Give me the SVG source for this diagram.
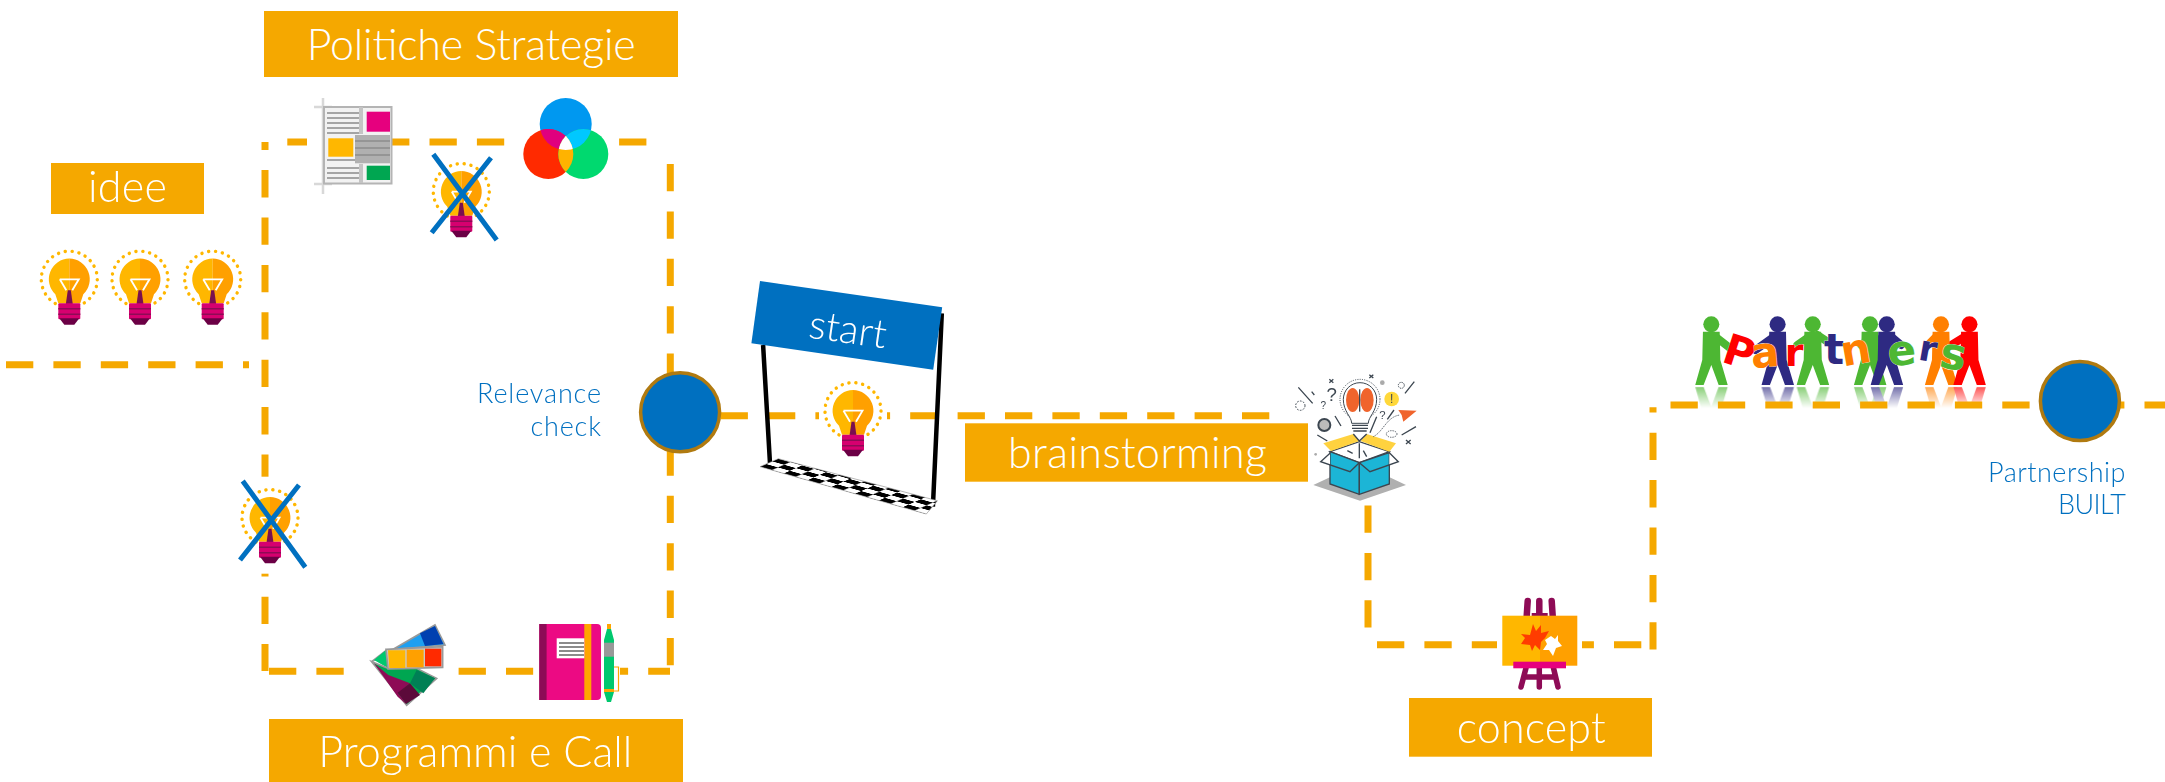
<svg xmlns="http://www.w3.org/2000/svg" width="2165" height="782" viewBox="0 0 2165 782">
<style>
.dash{fill:none;stroke:#F5A800;stroke-width:7;stroke-dasharray:27.3 20.1}
.lab{fill:#F5A800}
.t{font-family:"Lato","Open Sans","Liberation Sans",sans-serif;font-weight:300;fill:#fff;font-size:43px}
.b{font-family:"Lato","Open Sans","Liberation Sans",sans-serif;font-weight:300;fill:#0070C0;font-size:27px;text-anchor:end}
.chk{fill:#0070C0;stroke:#B07A10;stroke-width:3.5}
.x{stroke:#0070C0;stroke-width:5;fill:none}
.post{stroke:#000;stroke-width:4.5;fill:none}
.ln{stroke:#3C4650;stroke-width:4;fill:none}
.ltr{font-family:"DejaVu Sans",sans-serif;font-weight:700;text-anchor:middle;stroke:#fff;stroke-width:.6;paint-order:stroke}
.q{font-family:"Liberation Sans",sans-serif;fill:#3C4650;text-anchor:middle}
</style>
<defs>
<g id="bulb">
<rect x="-34" y="-41" width="68" height="97" fill="#fff"/>
<path d="M-14 24.200A28 28 0 1 1 14 24.200" fill="none" stroke="#FFB700" stroke-width="3.400" stroke-linecap="round" stroke-dasharray=".1 6.800"/>
<path d="M0-20.700A20.700 20.700 0 0 0-14 15L-11 24H0Z" fill="#FFB700"/>
<path d="M0-20.700A20.700 20.700 0 0 1 14 15L11 24H0Z" fill="#FFA000"/>
<path d="M-9.500 0H9.500L3 11M-9.500 0L-3 11" fill="none" stroke="#fff" stroke-width="1.800"/>
<path d="M-1.500 11H1.500L3.500 25H-3.500Z" fill="#7A0F4F"/>
<rect x="-11" y="24" width="22" height="16" rx="1" fill="#D6006F"/>
<path d="M-11 29.500H11M-11 35H11" stroke="#8E0B56" stroke-width="1.500"/>
<path d="M-10 39H10L5 45.500H-5Z" fill="#6B0045"/>
</g>
<g id="person">
<circle cx="0" cy="73" r="24"/>
<path d="M-25 95H25L27 180L49 255H22L0 195L-23 255H-48L-27 180Z"/>
</g>
<pattern id="chk" patternUnits="userSpaceOnUse" width="2" height="2" patternTransform="matrix(11.88 3.38 6.1 -2.67 760 466.7)">
<rect width="2" height="2" fill="#fff"/>
<rect width="1" height="1" fill="#000"/>
<rect x="1" y="1" width="1" height="1" fill="#000"/>
</pattern>
<clipPath id="cb"><circle cx="565.700" cy="124" r="26"/></clipPath>
<clipPath id="cg"><circle cx="583.300" cy="154" r="25"/></clipPath>
<linearGradient id="fade" gradientUnits="userSpaceOnUse" x1="0" y1="258" x2="0" y2="325">
<stop offset="0" stop-color="#fff" stop-opacity=".7"/><stop offset="1" stop-color="#fff" stop-opacity="0"/>
</linearGradient>
<mask id="mf" maskUnits="userSpaceOnUse" x="0" y="258" width="1200" height="70"><rect x="0" y="258" width="1200" height="70" fill="url(#fade)"/></mask>
</defs>

<g id="partners">
<g transform="translate(1640 300) scale(.3348 .3333)">
<g mask="url(#mf)">
<g transform="translate(0 516) scale(1 -1)">
<use href="#person" x="213" fill="#4DB733"/><use href="#person" x="411" fill="#2E2A82"/><use href="#person" x="516" fill="#4DB733"/><use href="#person" x="687" fill="#4DB733"/><use href="#person" x="737" fill="#2E2A82"/><use href="#person" x="899" fill="#FF7F00"/><use href="#person" x="984" fill="#F00"/>
</g>
</g>
<g stroke-width="24" fill="none" stroke-linecap="round">
<path d="M225 110L270 145" stroke="#4DB733"/><path d="M400 110L345 150" stroke="#2E2A82"/><path d="M505 110L470 135M530 105L555 122" stroke="#4DB733"/><path d="M700 110L660 135" stroke="#4DB733"/><path d="M725 110L700 140M750 110L780 135" stroke="#2E2A82"/><path d="M885 110L860 135" stroke="#FF7F00"/><path d="M970 110L930 135" stroke="#F00"/>
</g>
<use href="#person" x="213" fill="#4DB733"/><use href="#person" x="411" fill="#2E2A82"/><use href="#person" x="516" fill="#4DB733"/><use href="#person" x="687" fill="#4DB733"/><use href="#person" x="737" fill="#2E2A82"/><use href="#person" x="899" fill="#FF7F00"/><use href="#person" x="984" fill="#F00"/>
</g>
<text class="ltr" font-size="42" fill="#F00" transform="translate(1735 366) rotate(18)">P</text>
<text class="ltr" font-size="42" fill="#FF7F00" transform="translate(1766 367) rotate(-5)">a</text>
<text class="ltr" font-size="38" fill="#F00" transform="translate(1794 366)">r</text>
<text class="ltr" font-size="42" fill="#2E2A82" transform="translate(1834 364)">t</text>
<text class="ltr" font-size="42" fill="#FF7F00" transform="translate(1858 364) rotate(-10)">n</text>
<text class="ltr" font-size="42" fill="#4DB733" transform="translate(1903 365) rotate(-5)">e</text>
<text class="ltr" font-size="36" fill="#2E2A82" transform="translate(1926 361) rotate(10)">r</text>
<text class="ltr" font-size="44" fill="#4DB733" transform="translate(1951 369) rotate(10)">s</text>
</g>

<g id="connectors">
<path class="dash" d="M6 364.700H249"/>
<path class="dash" style="stroke-dashoffset:19.300" d="M265 142V671"/>
<path class="dash" d="M287.300 142H647"/>
<path class="dash" d="M670.300 164V671"/>
<path class="dash" d="M269 671.300H670"/>
<path class="dash" d="M673.200 415.700H1270"/>
<path class="dash" d="M1368 505.500V645"/>
<path class="dash" d="M1377 644.700H1641.500"/>
<path class="dash" style="stroke-dashoffset:22" d="M1653 407.300V649.500"/>
<path class="dash" d="M1670.500 405H2165"/>
</g>

<g id="idee">
<rect class="lab" x="51" y="163" width="153" height="51"/>
<text class="t" x="88" y="202.300" textLength="79" lengthAdjust="spacing">idee</text>
</g>
<g id="idee-bulbs">
<use href="#bulb" x="69.300" y="279.300"/><use href="#bulb" x="140" y="279.300"/><use href="#bulb" x="212.700" y="279.300"/>
</g>
<g id="politiche">
<rect class="lab" x="264" y="11" width="414" height="66"/>
<text class="t" x="306.700" y="60" textLength="329" lengthAdjust="spacing">Politiche Strategie</text>
</g>
<g id="doc">
<rect x="307" y="100" width="85" height="90" fill="#fff"/>
<path d="M323 98V194M314 107H332M314 184H332" stroke="#D8D8D8" stroke-width="2.500" fill="none"/>
<rect x="324" y="107" width="67.500" height="76.500" fill="#F2F2F2" stroke="#B4B4B4" stroke-width="2"/>
<path d="M327 113H362M327 118H362M327 123H362M327 128H362M327 133H362M327 160H362M327 168H362M327 173H362M327 178H362" stroke="#8C8C8C" stroke-width="1.500"/>
<rect x="355" y="135" width="35" height="28.300" fill="#B0B0B0"/>
<path d="M355 141H390M355 148H390M355 155H390" stroke="#8C8C8C" stroke-width="1.500"/>
<path d="M361 107V134M361 164V183" stroke="#C4C4C4" stroke-width="4"/>
<rect x="366.700" y="111.700" width="23.300" height="20" fill="#E6007E"/>
<rect x="328.300" y="138.300" width="25" height="18.400" fill="#FFB700"/>
<rect x="366.700" y="165.700" width="23.300" height="14.300" fill="#00A651"/>
</g>
<g id="colors">
<rect x="505" y="96" width="114" height="86" fill="#fff"/>
<circle cx="565.700" cy="124" r="26" fill="#0098F0"/>
<circle cx="548.300" cy="154" r="25" fill="#FF2A00"/>
<circle cx="583.300" cy="154" r="25" fill="#00D96F"/>
<g clip-path="url(#cb)"><circle cx="548.300" cy="154" r="25" fill="#E0007E"/><circle cx="583.300" cy="154" r="25" fill="#00C8FF"/></g>
<g clip-path="url(#cg)"><circle cx="548.300" cy="154" r="25" fill="#FFB300"/><g clip-path="url(#cb)"><circle cx="548.300" cy="154" r="25" fill="#fff"/></g></g>
</g>
<g id="bulb-x1">
<use href="#bulb" x="461.300" y="191.700"/>
<path class="x" d="M433.300 154.300L496.700 240M491 157.700L431.700 232.700"/>
</g>
<g id="bulb-x2">
<use href="#bulb" x="270" y="517.700"/>
<path class="x" d="M242.700 481L305.300 567.300M299 485L240 560"/>
</g>
<g id="palette" transform="translate(250 600) scale(.3333)">
<rect x="285" y="50" width="335" height="290" fill="#fff"/>
<path d="M365 185L555 75L585 135L410 150Z" fill="#1E9FF0" stroke="#999" stroke-width="5"/>
<path d="M510 100L555 78L580 132L525 138Z" fill="#0040B0"/>
<path d="M372 180L408 150L460 145L410 150L415 205Z" fill="#00C86E"/>
<path d="M365 185L470 316L560 235L500 205L415 205Z" fill="#00A651" stroke="#999" stroke-width="5"/>
<path d="M372 190L415 225L480 250L445 280L468 312L443 290Z" fill="#8E0B56"/>
<path d="M443 278L480 250L510 285L468 312Z" fill="#5C0A3A"/>
<path d="M500 210L555 235L520 280L480 250Z" fill="#008055"/>
<path d="M408 148L578 140L578 202L414 207Z" fill="#C8C8C8" stroke="#999" stroke-width="5"/>
<path d="M414 151H466V204H418Z" fill="#FFB700"/><path d="M470 149H521V202H470Z" fill="#FFA000"/><path d="M525 146H574V199H525Z" fill="#FF2A00"/>
</g>
<g id="notebook">
<rect x="533.500" y="620" width="86.500" height="85" fill="#fff"/>
<path d="M539.300 624H597a4 4 0 0 1 4 4V696a4 4 0 0 1-4 4H539.300Z" fill="#EC0A83"/>
<rect x="539.300" y="624" width="7.300" height="76" fill="#8E0B56"/>
<rect x="584.300" y="624" width="7" height="76" fill="#FFA500"/>
<rect x="556.700" y="638.300" width="27.600" height="20" fill="#fff"/>
<path d="M559 643H584M559 647H584M559 651H584M559 655H584" stroke="#666" stroke-width="1.500"/>
<path d="M607 624H611V629L614 640V692L611 702H607L604 692V640L607 629Z" fill="#00C86E"/>
<rect x="607" y="624" width="4" height="5" fill="#FFA500"/>
<rect x="604" y="642.700" width="10" height="14" fill="#999"/>
<rect x="604" y="689" width="10" height="3" fill="#FFA500"/>
<path d="M614 667H618.500V691H614" fill="none" stroke="#FFA500" stroke-width="1.200"/>
</g>
<g id="programmi">
<rect class="lab" x="269" y="719" width="414" height="63"/>
<text class="t" x="318.300" y="766.700" textLength="314" lengthAdjust="spacing">Programmi e Call</text>
</g>
<g id="relevance">
<circle class="chk" cx="680.100" cy="412.300" r="39.500"/>
<text class="b" x="601" y="403.300" textLength="124" lengthAdjust="spacing">Relevance</text>
<text class="b" x="601" y="435.700" textLength="70.600" lengthAdjust="spacing">check</text>
</g>
<g id="start">
<path class="post" d="M763.100 345L770 463.300M941.800 313.300L932.900 506.700"/>
<polygon points="760,466.700 778.300,458.700 937.400,500.700 926.300,514" fill="url(#chk)" stroke="#888" stroke-width=".6"/>
<polygon points="760,281 942.200,307.300 933.200,369.700 751.400,343.300" fill="#0070C0"/>
<text class="t" text-anchor="middle" style="font-size:40px" transform="translate(846 343) rotate(8.200)">start</text>
<use href="#bulb" x="853" y="410.700"/>
</g>
<g id="brainstorming">
<rect class="lab" x="965" y="423.300" width="343" height="58.400"/>
<text class="t" x="1008" y="467.700" textLength="259" lengthAdjust="spacing">brainstorming</text>
</g>
<g id="box" transform="translate(1270 360) scale(.3333)">
<path d="M130 375L270 310L408 375L270 422Z" fill="#B0B0B0"/>
<path d="M180 275L268 245L358 275L268 308Z" fill="#fff" stroke="#3C4650" stroke-width="4"/>
<path d="M180 275L268 308V403L180 372Z" fill="#1CB5D6" stroke="#3C4650" stroke-width="4"/>
<path d="M268 308L358 278V372L268 403Z" fill="#1CB5D6" stroke="#3C4650" stroke-width="4"/>
<path d="M160 250L250 222L268 243L183 273Z" fill="#FFD23F"/>
<path d="M272 243L290 222L378 250L358 275Z" fill="#FFD23F"/>
<path d="M180 280L152 305L180 315Z" fill="#fff"/>
<path d="M358 278L385 305L358 315Z" fill="#fff"/>
<path d="M180 280L152 305L240 335L268 308L300 335L385 305L358 278" class="ln"/>
<path d="M268 250V295M232 272L248 280M280 272L290 290M250 222L268 243L290 222" class="ln"/>
<circle cx="270" cy="118" r="60" fill="none" stroke="#3C4650" stroke-width="3" stroke-dasharray="3 4"/>
<path d="M245 190C245 170 220 155 220 118A50 50 0 0 1 320 118C320 155 295 170 295 190Z" fill="#fff" stroke="#3C4650" stroke-width="3"/>
<path d="M246 196H294M246 205H294M250 213H290" class="ln"/>
<ellipse cx="248" cy="120" rx="20" ry="36" fill="#F0642C"/>
<ellipse cx="291" cy="120" rx="20" ry="36" fill="#F0642C"/>
<path d="M269 88V155" class="ln"/>
<circle cx="365" cy="117" r="22" fill="#FFD83A"/>
<text class="q" x="365" y="130" font-size="36">!</text>
<path d="M385 150L440 152L400 185L395 165Z" fill="#F0642C"/>
<circle cx="163" cy="195" r="18" fill="#BBB" stroke="#3C4650" stroke-width="6"/>
<circle cx="91" cy="137" r="14" fill="none" stroke="#3C4650" stroke-width="3" stroke-dasharray="5 4"/>
<circle cx="394" cy="76" r="9" fill="none" stroke="#3C4650" stroke-width="3" stroke-dasharray="4 3"/>
<path d="M85 82L128 130M125 95L133 105M195 168L213 198M142 225L172 243M433 65L405 100M438 200L395 225M320 170L300 218M372 150L352 178M178 58L190 68M190 58L178 68M298 44L310 54M310 44L298 54M408 240L422 252M422 240L408 252" class="ln"/>
<circle cx="337" cy="68" r="7" fill="#AAA"/><circle cx="137" cy="283" r="4" fill="#AAA"/>
<ellipse cx="365" cy="222" rx="16" ry="10" fill="none" stroke="#3C4650" stroke-width="2.500" stroke-dasharray="4 3"/>
<path d="M310 230C340 215 350 170 390 165" fill="none" stroke="#3C4650" stroke-width="2.500" stroke-dasharray="4 3"/>
<text class="q" x="185" y="122" font-size="56">?</text>
<text class="q" x="160" y="146" font-size="30">?</text>
<text class="q" x="337" y="178" font-size="34">?</text>
</g>
<g id="easel">
<rect x="1497" y="598" width="85" height="92" fill="#fff"/>
<path d="M1527.700 601L1526.700 616M1539.300 601V616M1551.700 601L1552.700 616" stroke="#8E0B56" stroke-width="6.500" stroke-linecap="round"/>
<rect x="1531.700" y="613" width="16" height="5" fill="#8E0B56"/>
<rect x="1502.300" y="615.700" width="37.700" height="50" fill="#FFB700"/>
<rect x="1540" y="615.700" width="37.300" height="50" fill="#FFA000"/>
<path d="M1526 668L1521 687M1539.300 668V687M1553.500 668L1558 687M1524 677H1555" stroke="#8E0B56" stroke-width="5.500" fill="none" stroke-linecap="round"/>
<rect x="1513.300" y="661.700" width="52.700" height="6.600" fill="#E6007E"/>
<path d="M1533 624L1536 631L1541 625L1541 633L1549 631L1545 638L1541 642L1540 650L1535 645L1532 651L1530 645L1521 644L1525 638L1521 634L1530 635Z" fill="#FF3C00"/>
<path d="M1551 636L1555 639L1558 635L1558 641L1562 646L1556 648L1553 656L1549 650L1543 650L1547 644L1545 640Z" fill="#fff"/>
</g>
<g id="concept">
<rect class="lab" x="1409" y="698" width="243" height="58.700"/>
<text class="t" x="1456.700" y="743" textLength="149" lengthAdjust="spacing">concept</text>
</g>
<g id="built">
<circle class="chk" cx="2079.900" cy="401" r="39.500"/>
<text class="b" x="2125.500" y="481.700" textLength="137.400" lengthAdjust="spacing">Partnership</text>
<text class="b" x="2126" y="514" textLength="68" lengthAdjust="spacing">BUILT</text>
</g>
</svg>
